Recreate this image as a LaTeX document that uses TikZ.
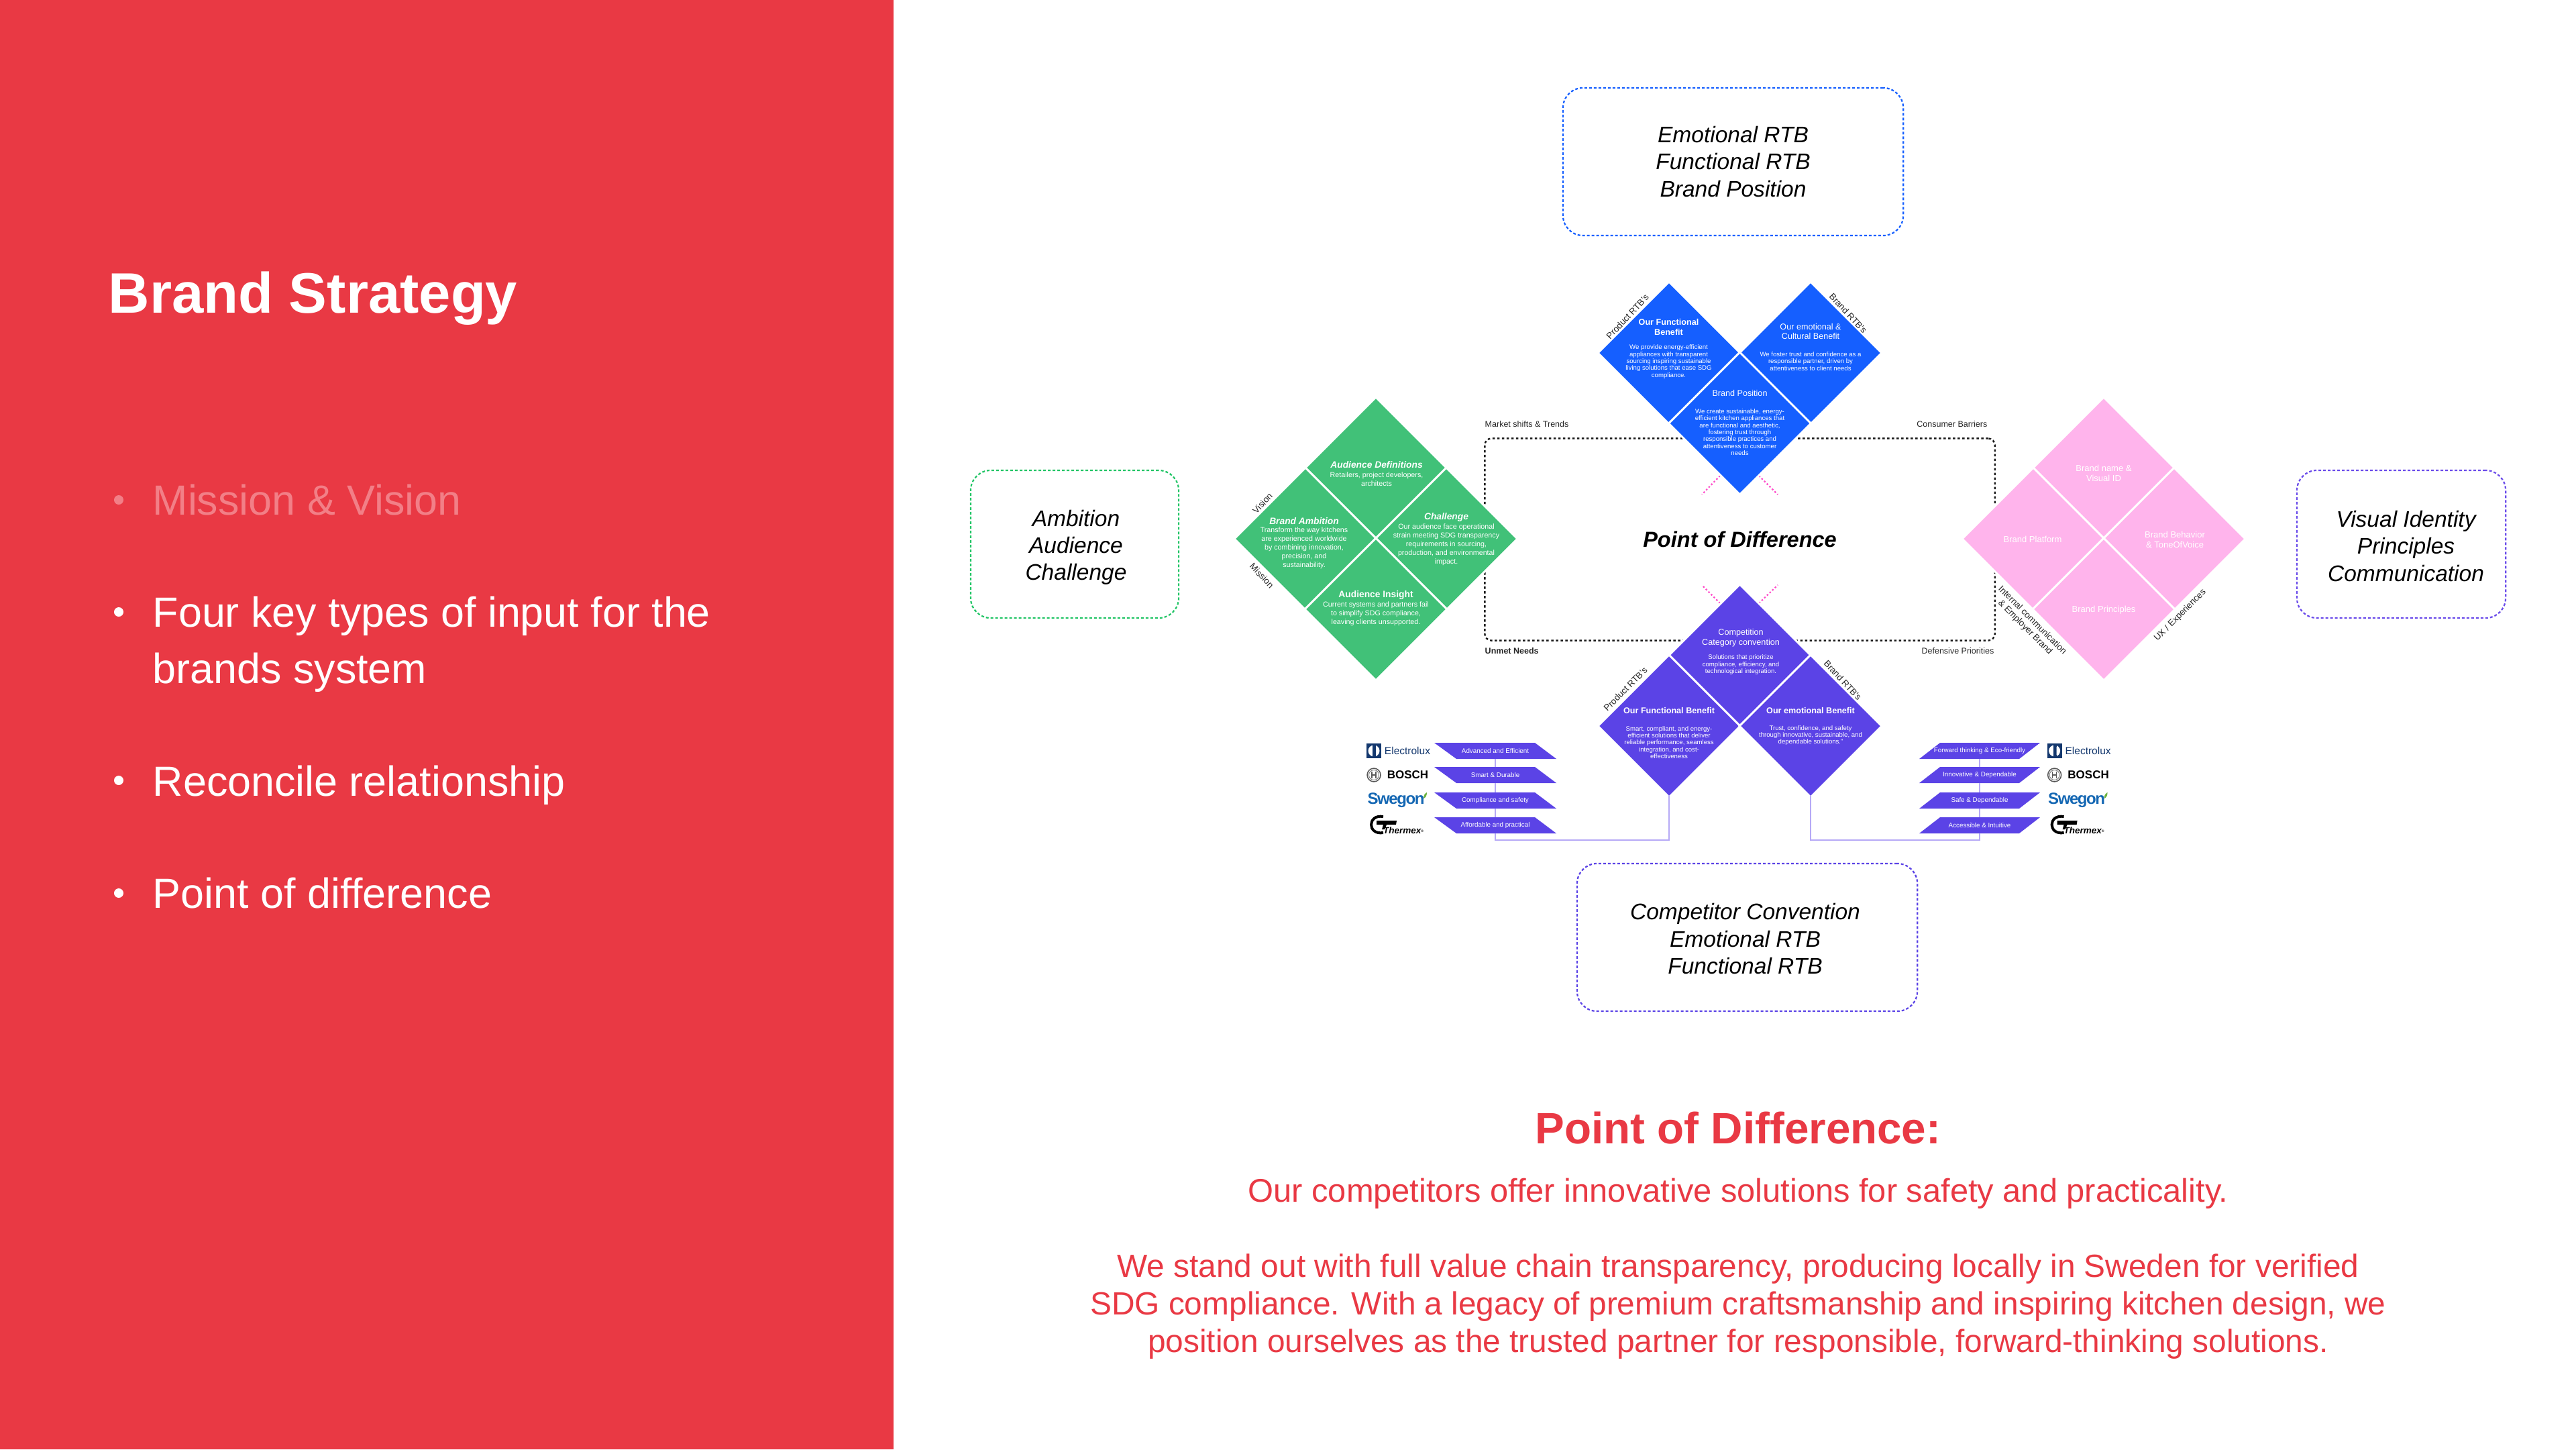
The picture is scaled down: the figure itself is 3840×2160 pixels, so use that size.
\documentclass[tikz,border=0pt]{standalone}
\usepackage{fontspec}
\setmainfont{Liberation Sans}
\usepackage{tikz}
\usetikzlibrary{shapes.geometric}
\definecolor{panelred}{HTML}{E93944}
\definecolor{palered}{HTML}{F27F87}
\definecolor{blockblue}{HTML}{155FFF}
\definecolor{blockgreen}{HTML}{41C178}
\definecolor{blockpink}{HTML}{FFB4EC}
\definecolor{blockviolet}{HTML}{5B43E6}
\definecolor{linkviolet}{HTML}{B6A9F6}
\definecolor{dotpink}{HTML}{FF4FCB}
\definecolor{boxgreen}{HTML}{22C566}
\definecolor{boxblue}{HTML}{155FFF}
\definecolor{boxviolet}{HTML}{6A4BEA}
\definecolor{electro}{HTML}{14386E}
\definecolor{swegon}{HTML}{1467B3}
\definecolor{leaf}{HTML}{6DB33F}
\newcommand*\pxsize[2]{\fontsize{\fpeval{#1*.28453}pt}{\fpeval{#2*.28453}pt}\selectfont}
\newcommand*\slableft[3]{
	\fill[slab](2138,#1)--(2288,#1)--(2320,#1+24)--(2171,#1+24)--cycle;
	\node[slabtext](#2)at(2229,#1+12){#3};}
\newcommand*\slabright[3]{
	\fill[slab](2892,#1)--(3041,#1)--(3010,#1+24)--(2861,#1+24)--cycle;
	\node[slabtext](#2)at(2951,#1+12){#3};}
\newcommand*\logostack[2]{
	\begin{scope}[xshift=#2,name prefix=#1]
		\node[rectangle,fill=electro,minimum size=.22cm,inner sep=0,outer sep=0](emark)at(2048,1119){};
		\fill[white](2048,1119)circle[radius=.085cm];
		\fill[electro](2046,1108)--(2051,1108)--(2051,1130)--(2046,1130)--cycle;
		\fill[white](2051,1113)--(2056,1119)--(2051,1125)--cycle;
		\node[logotext,text=electro,font=\pxsize{15.5}{16}](etext)at(2098,1119){Electrolux};
		\node[circle,draw=black!65,line width=.015cm,minimum size=.2cm,inner sep=0](bmark)at(2048,1155){};
		\node[circle,draw=black!50,line width=.01cm,minimum size=.15cm,inner sep=0](bring)at(2048,1155){};
		\draw[black!65,line width=.012cm](2045,1150)--(2045,1160)(2051,1150)--(2051,1160)(2045,1155)--(2051,1155);
		\node[logotext,font=\pxsize{17}{18}\bfseries](btext)at(2098.5,1155){BOSCH};
		\node[logotext,text=swegon,font=\pxsize{24}{25}\bfseries\addfontfeature{LetterSpace=-6}](stext)at(2081,1193){Swegon};
		\fill[leaf](2122,1190)..controls(2122,1184)and(2125,1182)..(2127,1181)..controls(2127,1186)and(2125,1189)..cycle;
		\draw[line width=.04cm](2062,1217)..controls(2038,1213)and(2038,1245)..(2062,1241);
		\fill(2052,1223)--(2082,1223)--(2081,1229)--(2067,1229)--(2064,1236)--(2060,1236)--(2062,1229)--(2052,1229)--cycle;
		\node[logotext,font=\pxsize{13.5}{14}\bfseries\itshape](ttext)at(2092,1238){Thermex\raisebox{.3ex}{\pxsize{5}{5}®}};
	\end{scope}}
\begin{document}
\begin{tikzpicture}[x=.01cm,y=-.01cm]
	\tikzstyle{cell}=[shape=diamond,aspect=1,inner sep=0,outer sep=0,minimum width=2.12cm,minimum height=2.12cm,draw=white,line width=.03cm];
	\tikzstyle{head}=[text=white,align=center,inner sep=0,font=\pxsize{12.6}{14.8}\bfseries];
	\tikzstyle{plain head}=[text=white,align=center,inner sep=0,font=\pxsize{12.6}{14.8}];
	\tikzstyle{blurb}=[text=white,align=center,inner sep=0,font=\pxsize{9.6}{10.4}];
	\tikzstyle{gblurb}=[text=white,align=center,inner sep=0,font=\pxsize{10.7}{13}];
	\tikzstyle{gtitle}=[text=white,align=center,inner sep=0,font=\pxsize{13.8}{15}\bfseries\itshape];
	\tikzstyle{pinklabel}=[text=white,align=center,inner sep=0,font=\pxsize{13}{15}];
	\tikzstyle{side}=[inner sep=0,align=center,text=black!85,font=\pxsize{13.3}{15}];
	\tikzstyle{corner}=[inner sep=0,text=black!85,font=\pxsize{12.5}{14}];
	\tikzstyle{inbox}=[rectangle,rounded corners=.3cm,draw,line width=.022cm,dash pattern=on .04cm off .03cm,align=center,inner sep=0,outer sep=0,minimum height=2.2cm,font=\pxsize{33.5}{40}\itshape];
	\tikzstyle{intext}=[align=center,inner sep=0,font=\pxsize{33.5}{40}\itshape];
	\tikzstyle{slab}=[fill=blockviolet];
	\tikzstyle{slabtext}=[rectangle,inner sep=0,outer sep=0,minimum width=1.5cm,minimum height=.24cm,text=white,font=\pxsize{9.8}{11}];
	\tikzstyle{logotext}=[inner sep=0];
	\tikzstyle{link}=[draw=linkviolet,line width=.02cm];
	\tikzstyle{pinkline}=[draw=dotpink,line width=.022cm,dash pattern=on .025cm off .03cm];
	\tikzstyle{bullet}=[circle,fill=white,inner sep=0,minimum size=.14cm];
	\tikzstyle{point}=[inner sep=0,anchor=west,align=left,text=white,font=\pxsize{62.8}{84}];
	\tikzstyle{redtext}=[inner sep=0,align=center,text=panelred];
	\useasboundingbox(0,0)rectangle(3840,2160);
	\fill[white](0,0)rectangle(3840,2160);
	\fill[panelred](0,0)rectangle(1332,2160);
	\node[inner sep=0,anchor=west,text=white,font=\pxsize{85}{90}\bfseries](title)at(161,445){Brand Strategy};
	\node[bullet,fill=palered](ba)at(177,745){};
	\node[point,text=palered](pa)at(227,745){Mission \& Vision};
	\node[bullet](bb)at(177,912){};
	\node[point,anchor=north west](pb)at(227,888){Four key types of input for the\\brands system};
	\node[bullet](bc)at(177,1163){};
	\node[point](pc)at(227,1170){Reconcile relationship};
	\node[bullet](bd)at(177,1331){};
	\node[point](pd)at(227,1331){Point of difference};
	\node[inbox,draw=boxblue,minimum width=5.07cm](top)at(2583.5,241){Emotional RTB\\Functional RTB\\Brand Position};
	\node[inbox,draw=boxgreen,minimum width=3.1cm,label={[intext,name=lefttext,xshift=.02cm,yshift=-.05cm]center:Ambition\\Audience\\Challenge}](left)at(1602,811){};
	\node[inbox,draw=boxviolet,minimum width=3.11cm,label={[intext,name=righttext,xshift=.07cm,yshift=-.03cm]center:Visual Identity\\Principles\\Communication}](right)at(3579.5,811){};
	\node[inbox,draw=blockviolet,minimum width=5.07cm,label={[intext,name=bottomtext,xshift=-.03cm,yshift=-.02cm]center:Competitor Convention\\Emotional RTB\\Functional RTB}](bottom)at(2604.5,1397){};
	\node[rectangle,rounded corners=.1cm,draw=black!90,line width=.024cm,dash pattern=on .035cm off .035cm,minimum width=7.6cm,minimum height=3.01cm,inner sep=0,outer sep=0,font=\pxsize{32.5}{34}\bfseries\itshape](pod)at(2593.5,804){Point of Difference};
	\node[corner,anchor=west](mt)at(2213,632){Market shifts \& Trends};
	\node[corner,anchor=east](cb)at(2963,632){Consumer Barriers};
	\node[corner,anchor=west,font=\pxsize{12.5}{14}\bfseries](un)at(2213,970){Unmet Needs};
	\node[corner,anchor=east](dp)at(2973,970){Defensive Priorities};
	\coordinate(xa)at(2564,709);
	\coordinate(xb)at(2537,737);
	\coordinate(xc)at(2622,709);
	\coordinate(xd)at(2650,737);
	\coordinate(xe)at(2564,899);
	\coordinate(xf)at(2537,872);
	\coordinate(xg)at(2622,899);
	\coordinate(xh)at(2650,872);
	\draw[pinkline](xa)--(xb);
	\draw[pinkline](xc)--(xd);
	\draw[pinkline](xe)--(xf);
	\draw[pinkline](xg)--(xh);
	\node[cell,fill=blockblue](funcb)at(2488,526){};
	\node[cell,fill=blockblue](emob)at(2699,526){};
	\node[cell,fill=blockblue](posb)at(2593.5,631){};
	\node[head](funcbh)at(2487.5,487.5){Our Functional\\Benefit};
	\node[blurb](funcbt)at(2487.5,539){We provide energy-efficient\\appliances with transparent\\sourcing inspiring sustainable\\living solutions that ease SDG\\compliance.};
	\node[plain head](emobh)at(2699,494){Our emotional \&\\Cultural Benefit};
	\node[blurb](emobt)at(2699,538.5){We foster trust and confidence as a\\responsible partner, driven by\\attentiveness to client needs};
	\node[plain head](posbh)at(2593.5,586){Brand Position};
	\node[blurb](posbt)at(2593.5,644){We create sustainable, energy-\\efficient kitchen appliances that\\are functional and aesthetic,\\fostering trust through\\responsible practices and\\attentiveness to customer\\needs};
	\node[side,rotate=47](prtba)at(2426,472){Product RTB's};
	\node[side,rotate=-47](brtba)at(2755,467){Brand RTB's};
	\node[cell,fill=blockgreen](gtop)at(2051,698){};
	\node[cell,fill=blockgreen](gleft)at(1946,803){};
	\node[cell,fill=blockgreen](gright)at(2156,803){};
	\node[cell,fill=blockgreen](gbot)at(2051,908){};
	\node[gtitle](gtoph)at(2052,693){Audience Definitions};
	\node[gblurb](gtopt)at(2052,714){Retailers, project developers,\\architects};
	\node[gtitle](glefth)at(1944,777){Brand Ambition};
	\node[gblurb](gleftt)at(1944,817){Transform the way kitchens\\are experienced worldwide\\by combining innovation,\\precision, and\\sustainability.};
	\node[gtitle](grighth)at(2156,771){Challenge};
	\node[gblurb](grightt)at(2156,811.5){Our audience face operational\\strain meeting SDG transparency\\requirements in sourcing,\\production, and environmental\\impact.};
	\node[gtitle,font=\pxsize{13.8}{15}\bfseries](gboth)at(2051,887){Audience Insight};
	\node[gblurb](gbott)at(2051,914.5){Current systems and partners fail\\to simplify SDG compliance,\\leaving clients unsupported.};
	\node[side,rotate=47](vis)at(1882,750){Vision};
	\node[side,rotate=-47](mis)at(1881,858){Mission};
	\node[cell,fill=blockpink](ptop)at(3136,698){};
	\node[cell,fill=blockpink](pleft)at(3031,803){};
	\node[cell,fill=blockpink](pright)at(3241,803){};
	\node[cell,fill=blockpink](pbot)at(3136,908){};
	\node[pinklabel](ptopl)at(3136,705.5){Brand name \&\\Visual ID};
	\node[pinklabel](pleftl)at(3030,804){Brand Platform};
	\node[pinklabel](prightl)at(3242,804.5){Brand Behavior\\\& ToneOfVoice};
	\node[pinklabel](pbotl)at(3136,909){Brand Principles};
	\node[side,rotate=-45](intc)at(3024,930){Internal communication\\\& Employer Brand};
	\node[side,rotate=45](uxe)at(3250,917){UX / Experiences};
	\node[cell,fill=blockviolet](conv)at(2593.5,977){};
	\node[cell,fill=blockviolet](funcp)at(2488,1082){};
	\node[cell,fill=blockviolet](emop)at(2699,1082){};
	\node[plain head](convh)at(2595,950.5){Competition\\Category convention};
	\node[blurb](convt)at(2595,990.5){Solutions that prioritize\\compliance, efficiency, and\\technological integration.};
	\node[head](funcph)at(2488,1059){Our Functional Benefit};
	\node[blurb](funcpt)at(2488,1106.5){Smart, compliant, and energy-\\efficient solutions that deliver\\reliable performance, seamless\\integration, and cost-\\effectiveness};
	\node[head](emoph)at(2699,1059){Our emotional Benefit};
	\node[blurb](emopt)at(2699,1096){Trust, confidence, and safety\\through innovative, sustainable, and\\dependable solutions.”};
	\node[side,rotate=45](prtbb)at(2423,1027){Product RTB's};
	\node[side,rotate=-47](brtbb)at(2747,1014){Brand RTB's};
	\slableft{1107}{adv}{Advanced and Efficient}
	\slableft{1143}{sma}{Smart \& Durable}
	\slableft{1181}{com}{Compliance and safety}
	\slableft{1218}{aff}{Affordable and practical}
	\slabright{1107}{fwd}{Forward thinking \& Eco-friendly}
	\slabright{1143}{inn}{Innovative \& Dependable}
	\slabright{1181}{saf}{Safe \& Dependable}
	\slabright{1218}{acc}{Accessible \& Intuitive}
	\coordinate(ell)at(2229,1252);
	\coordinate(elr)at(2951,1252);
	\draw[link,shorten <=-.03cm](funcp.south)|-(ell)--(aff.south);
	\draw[link](aff.north)--(com.south);
	\draw[link](com.north)--(sma.south);
	\draw[link](sma.north)--(adv.south);
	\draw[link,shorten <=-.03cm](emop.south)|-(elr)--(acc.south);
	\draw[link](acc.north)--(saf.south);
	\draw[link](saf.north)--(inn.south);
	\draw[link](inn.north)--(fwd.south);
	\logostack{l}{0cm}
	\logostack{r}{10.14cm}
	\node[redtext,font=\pxsize{65.5}{70}\bfseries](podh)at(2591,1681){Point of Difference:};
	\node[redtext,font=\pxsize{48.8}{56}](podi)at(2591,1779){Our competitors offer innovative solutions for safety and practicality.};
	\node[redtext,font=\pxsize{47.8}{56}](podj)at(2591,1947){We stand out with full value chain transparency, producing locally in Sweden for verified\\SDG compliance. With a legacy of premium craftsmanship and inspiring kitchen design, we\\position ourselves as the trusted partner for responsible, forward-thinking solutions.};
\end{tikzpicture}
\end{document}
